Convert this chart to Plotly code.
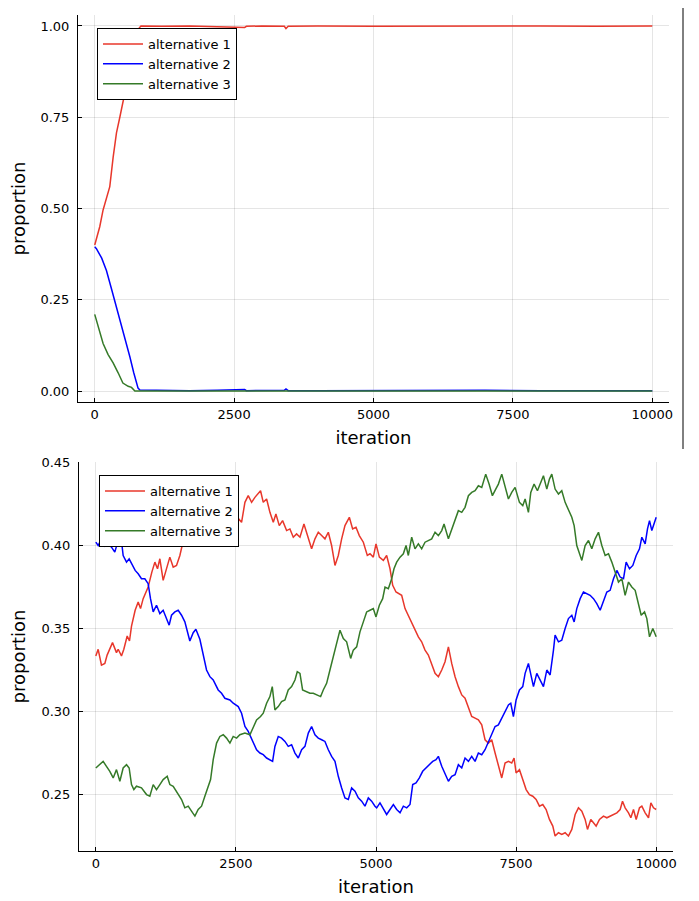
import plotly.graph_objects as go

# ---------------- top panel data ----------------
top_iter_1 = [0, 90, 150, 270, 330, 390, 450, 510, 570, 640, 700, 760, 800, 830, 1200, 1700, 2200, 2690, 2720,
              3000, 3400, 3430, 3470, 4000, 5000, 6000, 7000, 8000, 9000, 10000]
top_prop_1 = [0.40, 0.45, 0.496, 0.56, 0.64, 0.707, 0.75, 0.797, 0.838, 0.89, 0.93, 0.97, 0.995, 1.0, 0.999, 1.0, 0.999, 0.996, 0.999,
              1.0, 0.999, 0.993, 0.999, 1.0, 0.999, 1.0, 0.999, 1.0, 0.999, 1.0]

top_iter_2 = [0, 30, 125, 210, 300, 390, 510, 630, 700, 777, 810, 1200, 1700, 2200, 2690, 2720, 3000, 3400, 3430,
              3470, 4000, 5000, 6000, 7000, 8000, 9000, 10000]
top_prop_2 = [0.395, 0.39, 0.364, 0.33, 0.28, 0.23, 0.158, 0.094, 0.05, 0.008, 0.003, 0.002, 0.001, 0.002, 0.004, 0.001, 0.001, 0.002, 0.006,
              0.001, 0.001, 0.002, 0.001, 0.002, 0.001, 0.001, 0.001]

top_iter_3 = [0, 60, 150, 240, 330, 420, 505, 600, 660, 720, 1000, 10000]
top_prop_3 = [0.21, 0.18, 0.13, 0.10, 0.077, 0.05, 0.022, 0.013, 0.01, 0.0, 0.0, 0.0]

# ---------------- bottom panel data ----------------
bot_iter_1 = [0, 42, 101, 161, 202, 298, 369, 399, 458, 500, 560, 601, 637, 702, 756, 798, 845, 899, 934, 1000,
              1054, 1101, 1143, 1202, 1262, 1321, 1381, 1440, 1500, 1548, 1619, 1700, 1850, 2000, 2100, 2155, 2214,
              2274, 2333, 2450, 2550,
              2601, 2661, 2720, 2780, 2839, 2899, 2940, 2988, 3048, 3107, 3167, 3214, 3274, 3333, 3405, 3464, 3524,
              3583, 3643, 3714, 3774, 3851, 3911, 3970, 4030, 4089, 4149, 4208, 4268, 4327, 4387, 4446, 4524, 4583,
              4643, 4702, 4774, 4845, 4893, 4952,
              5000, 5060, 5131, 5190, 5250, 5298, 5357, 5417, 5458, 5518, 5577, 5637, 5696, 5756, 5815, 5875, 5934,
              5994, 6054, 6113, 6173, 6232, 6292, 6351, 6411, 6470, 6530, 6589, 6649, 6708, 6768, 6827, 6887, 6946,
              7006, 7065, 7125, 7184, 7244, 7303, 7363, 7422, 7464,
              7500, 7560, 7619, 7679, 7738, 7798, 7857, 7917, 7976, 8036, 8095, 8155, 8196, 8256, 8315, 8375, 8434,
              8494, 8554, 8613, 8673, 8732, 8774, 8833, 8881, 8928, 8988, 9059, 9119, 9178, 9238, 9298, 9357, 9399,
              9446, 9506, 9548, 9595, 9643, 9702, 9744, 9803, 9863, 9905, 9952, 10000]
bot_prop_1 = [0.3335, 0.3375, 0.328, 0.329, 0.334, 0.3415, 0.3355, 0.3375, 0.3335, 0.3375, 0.3455, 0.3425, 0.3515,
              0.361, 0.366, 0.362, 0.368, 0.373, 0.375, 0.384, 0.390, 0.386, 0.392, 0.379, 0.386, 0.393, 0.387, 0.388,
              0.394, 0.401, 0.407, 0.411, 0.413, 0.410, 0.404, 0.402, 0.404, 0.407, 0.408, 0.412, 0.416,
              0.414, 0.426, 0.430, 0.426, 0.429, 0.431, 0.433, 0.426, 0.428, 0.420, 0.414, 0.419, 0.412, 0.415, 0.409,
              0.410, 0.405, 0.407, 0.405, 0.413, 0.407, 0.398, 0.404, 0.408, 0.406, 0.404, 0.408, 0.400, 0.388, 0.394,
              0.404, 0.412, 0.417, 0.410, 0.411, 0.406, 0.402, 0.394, 0.395, 0.393,
              0.401, 0.393, 0.391, 0.394, 0.386, 0.376, 0.372, 0.371, 0.370, 0.362, 0.358, 0.353, 0.350, 0.345, 0.342,
              0.337, 0.334, 0.329, 0.323, 0.321, 0.325, 0.330, 0.339, 0.329, 0.321, 0.315, 0.310, 0.308, 0.303, 0.297,
              0.296, 0.295, 0.292, 0.283, 0.281, 0.283, 0.275, 0.267, 0.260, 0.269, 0.270, 0.269, 0.272,
              0.263, 0.265, 0.259, 0.253, 0.250, 0.249, 0.247, 0.243, 0.244, 0.241, 0.235, 0.231, 0.225, 0.227, 0.226,
              0.227, 0.225, 0.229, 0.238, 0.242, 0.240, 0.235, 0.229, 0.235, 0.233, 0.231, 0.235, 0.237, 0.236, 0.237,
              0.238, 0.239, 0.241, 0.246, 0.242, 0.239, 0.236, 0.241, 0.235, 0.242, 0.243, 0.239, 0.236, 0.245, 0.242,
              0.241]

bot_iter_2 = [0, 42, 101, 161, 220, 280, 339, 369, 440, 488, 548, 595, 655, 702, 756, 815, 875, 934, 976, 1024, 1083,
              1143, 1202, 1262, 1309, 1351, 1411, 1470, 1530, 1589, 1678, 1738, 1786, 1857, 1917, 1976, 2036, 2095,
              2184, 2244, 2303, 2393, 2452,
              2542, 2601, 2661, 2720, 2762, 2821, 2869, 2929, 2988, 3048, 3107, 3155, 3196, 3256, 3315, 3375, 3434,
              3494, 3554, 3613, 3673, 3732, 3792, 3851, 3911, 3970, 4030, 4089, 4149, 4208, 4268, 4327, 4387, 4446,
              4506, 4565, 4625, 4684, 4744, 4803, 4863, 4922, 4982,
              5012, 5071, 5131, 5190, 5250, 5310, 5369, 5429, 5488, 5548, 5607, 5655, 5714, 5774, 5833, 5893, 5952,
              6012, 6071, 6113, 6173, 6232, 6292, 6351, 6411, 6470, 6530, 6589, 6649, 6708, 6768, 6827, 6887, 6946,
              7006, 7065, 7125, 7184, 7244, 7303, 7363, 7405, 7452,
              7500, 7560, 7619, 7661, 7720, 7762, 7810, 7869, 7929, 7988, 8048, 8107, 8167, 8196, 8256, 8315, 8375,
              8434, 8494, 8536, 8583, 8643, 8702, 8762, 8821, 8881, 8940, 9000, 9059, 9119, 9178, 9238, 9298, 9357,
              9417, 9464, 9524, 9583, 9643, 9702, 9744, 9803, 9845, 9881, 9922, 9964, 10000]
bot_prop_2 = [0.402, 0.400, 0.404, 0.3996, 0.401, 0.399, 0.396, 0.400, 0.408, 0.394, 0.390, 0.392, 0.388, 0.385, 0.383,
              0.380, 0.380, 0.377, 0.368, 0.360, 0.364, 0.359, 0.361, 0.356, 0.352, 0.358, 0.360, 0.361, 0.358, 0.354,
              0.3425, 0.3475, 0.3496, 0.3435, 0.3335, 0.325, 0.321, 0.319, 0.313, 0.311, 0.308, 0.307, 0.305,
              0.303, 0.299, 0.291, 0.288, 0.285, 0.281, 0.277, 0.275, 0.274, 0.272, 0.271, 0.270, 0.279, 0.285, 0.284,
              0.282, 0.279, 0.280, 0.275, 0.272, 0.277, 0.279, 0.287, 0.291, 0.286, 0.284, 0.283, 0.282, 0.277, 0.273,
              0.270, 0.261, 0.254, 0.248, 0.247, 0.254, 0.252, 0.248, 0.246, 0.243, 0.248, 0.246, 0.243,
              0.242, 0.245, 0.241, 0.238, 0.241, 0.244, 0.241, 0.239, 0.243, 0.242, 0.244, 0.256, 0.257, 0.260, 0.264,
              0.266, 0.268, 0.270, 0.271, 0.273, 0.267, 0.262, 0.258, 0.261, 0.262, 0.268, 0.266, 0.272, 0.270, 0.273,
              0.270, 0.275, 0.274, 0.277, 0.282, 0.286, 0.291, 0.292, 0.296, 0.300, 0.304, 0.305, 0.297,
              0.307, 0.313, 0.315, 0.323, 0.329, 0.322, 0.315, 0.323, 0.319, 0.315, 0.325, 0.322, 0.337, 0.346, 0.342,
              0.343, 0.350, 0.356, 0.358, 0.354, 0.362, 0.368, 0.372, 0.371, 0.370, 0.368, 0.365, 0.361, 0.367, 0.372,
              0.373, 0.380, 0.385, 0.381, 0.380, 0.390, 0.386, 0.388, 0.394, 0.398, 0.405, 0.401, 0.410, 0.415, 0.409,
              0.413, 0.417]

bot_iter_3 = [0, 71, 131, 190, 250, 310, 369, 429, 488, 548, 595, 637, 679, 726, 815, 905, 964, 1024, 1083, 1143, 1202,
              1274, 1321, 1381, 1452, 1530, 1589, 1649, 1708, 1768, 1827, 1887, 1946, 2006, 2048, 2095, 2155, 2214,
              2274, 2333, 2393, 2452,
              2512, 2571, 2661, 2750, 2810, 2869, 2940, 2988, 3048, 3107, 3149, 3196, 3256, 3315, 3375, 3434, 3494,
              3554, 3595, 3643, 3690, 3750, 3821, 3881, 3952, 4012, 4059, 4119, 4178, 4238, 4298, 4357, 4417, 4476,
              4548, 4595, 4655, 4714, 4774, 4833, 4893, 4952,
              5000, 5060, 5119, 5161, 5220, 5280, 5321, 5369, 5429, 5488, 5536, 5577, 5637, 5696, 5756, 5815, 5875,
              5934, 5994, 6054, 6113, 6173, 6214, 6292, 6351, 6411, 6470, 6530, 6589, 6649, 6708, 6768, 6827, 6887,
              6958, 7018, 7077, 7137, 7184, 7244, 7303, 7363, 7422, 7482,
              7560, 7619, 7661, 7720, 7762, 7821, 7881, 7940, 7988, 8048, 8095, 8137, 8196, 8256, 8315, 8375, 8434,
              8494, 8536, 8583, 8643, 8673, 8732, 8792, 8851, 8911, 8970, 9030, 9089, 9149, 9208, 9268, 9327, 9387,
              9446, 9506, 9565, 9625, 9684, 9732, 9792, 9833, 9881, 9940, 10000]
bot_prop_3 = [0.266, 0.268, 0.270, 0.267, 0.264, 0.260, 0.265, 0.258, 0.266, 0.268, 0.266, 0.256, 0.253, 0.255, 0.254,
              0.250, 0.249, 0.256, 0.253, 0.256, 0.259, 0.261, 0.256, 0.255, 0.251, 0.247, 0.242, 0.243, 0.240, 0.237,
              0.241, 0.243, 0.249, 0.255, 0.259, 0.271, 0.281, 0.285, 0.286, 0.284, 0.281, 0.285,
              0.284, 0.286, 0.287, 0.286, 0.291, 0.295, 0.297, 0.299, 0.305, 0.309, 0.315, 0.301, 0.303, 0.306, 0.307,
              0.313, 0.315, 0.319, 0.324, 0.323, 0.313, 0.312, 0.311, 0.311, 0.310, 0.309, 0.313, 0.317, 0.325, 0.333,
              0.342, 0.349, 0.344, 0.342, 0.332, 0.337, 0.339, 0.348, 0.354, 0.360, 0.361, 0.362,
              0.357, 0.364, 0.368, 0.375, 0.374, 0.380, 0.386, 0.390, 0.393, 0.395, 0.400, 0.394, 0.405, 0.398, 0.401,
              0.398, 0.402, 0.403, 0.404, 0.408, 0.406, 0.409, 0.413, 0.404, 0.410, 0.415, 0.421, 0.420, 0.423, 0.430,
              0.432, 0.433, 0.436, 0.435, 0.443, 0.437, 0.430, 0.434, 0.437, 0.443, 0.436, 0.428, 0.432, 0.435,
              0.426, 0.424, 0.428, 0.420, 0.432, 0.437, 0.433, 0.438, 0.442, 0.434, 0.440, 0.443, 0.434, 0.431, 0.433,
              0.426, 0.422, 0.417, 0.412, 0.400, 0.394, 0.391, 0.400, 0.403, 0.398, 0.404, 0.408, 0.400, 0.394, 0.395,
              0.390, 0.384, 0.378, 0.380, 0.370, 0.378, 0.375, 0.373, 0.364, 0.358, 0.360, 0.356, 0.345, 0.350, 0.345]

names = ["alternative 1", "alternative 2", "alternative 3"]
colors = ["#e8372b", "#0000ff", "#357a28"]
x_ticks = [0, 2500, 5000, 7500, 10000]
top_y_ticks = [0.0, 0.25, 0.5, 0.75, 1.0]
bot_y_ticks = [0.25, 0.30, 0.35, 0.40, 0.45]

# page body has an 8px margin, so the figure is laid out in a slightly smaller box offset by 8px
OFF = 8
W, H = 699 - OFF, 901 - OFF
FONT = "DejaVu Sans"

fig = go.Figure()
top_data = [(top_iter_1, top_prop_1), (top_iter_2, top_prop_2), (top_iter_3, top_prop_3)]
bot_data = [(bot_iter_1, bot_prop_1), (bot_iter_2, bot_prop_2), (bot_iter_3, bot_prop_3)]
for (xs, ys), name, c in zip(top_data, names, colors):
    fig.add_trace(go.Scatter(x=xs, y=ys, mode="lines", name=name, line=dict(color=c, width=1.5),
                             xaxis="x", yaxis="y", legend="legend"))
for (xs, ys), name, c in zip(bot_data, names, colors):
    fig.add_trace(go.Scatter(x=xs, y=ys, mode="lines", name=name, line=dict(color=c, width=1.5),
                             xaxis="x2", yaxis="y2", legend="legend2"))

def px_x(p):
    return (p - OFF) / W

def px_y(p):
    return (H - (p - OFF)) / H

axis_common = dict(showline=True, linecolor="black", linewidth=1, mirror=False, zeroline=False,
                   automargin=False,
                   showgrid=True, gridcolor="rgba(0,0,0,0.1)", gridwidth=0.6,
                   ticks="inside", ticklen=4, tickcolor="black", tickwidth=1,
                   tickfont=dict(family=FONT, size=13, color="black"))

legend_common = dict(bgcolor="white", bordercolor="black", borderwidth=1,
                     font=dict(family=FONT, size=13, color="black"),
                     xanchor="left", yanchor="top", tracegroupgap=0, itemwidth=40)

fig.update_layout(
    template="none",
    width=W, height=H, margin=dict(l=0, r=0, t=0, b=0, autoexpand=False),
    paper_bgcolor="white", plot_bgcolor="white",
    font=dict(family=FONT, color="black"),
    xaxis=dict(domain=[px_x(78), px_x(669)], range=[-300, 10300], anchor="y",
               tickvals=x_ticks, tickformat="d",
               title=dict(text="iteration", font=dict(family=FONT, size=18), standoff=10), **axis_common),
    yaxis=dict(domain=[px_y(402), px_y(15)], range=[-0.03, 1.03], anchor="x",
               tickvals=top_y_ticks, tickformat=".2f", ticklabelstandoff=5,
               title=dict(text="proportion", font=dict(family=FONT, size=18), standoff=12), **axis_common),
    xaxis2=dict(domain=[px_x(79), px_x(673)], range=[-300, 10300], anchor="y2",
                tickvals=x_ticks, tickformat="d",
                title=dict(text="iteration", font=dict(family=FONT, size=18), standoff=10), **axis_common),
    yaxis2=dict(domain=[px_y(851), px_y(462)], range=[0.216, 0.4503], anchor="x2",
                tickvals=bot_y_ticks, tickformat=".2f", ticklabelstandoff=5,
                title=dict(text="proportion", font=dict(family=FONT, size=18), standoff=12), **axis_common),
    legend=dict(x=px_x(97), y=px_y(28), **legend_common),
    legend2=dict(x=px_x(99), y=px_y(475), **legend_common),
    showlegend=True,
)

# thin vertical rule at the right of the top panel, as in the reference image
fig.add_shape(type="line", xref="paper", yref="paper", x0=px_x(683), x1=px_x(683),
              y0=px_y(449), y1=px_y(4), line=dict(color="black", width=1))

fig.write_html("out.html")
